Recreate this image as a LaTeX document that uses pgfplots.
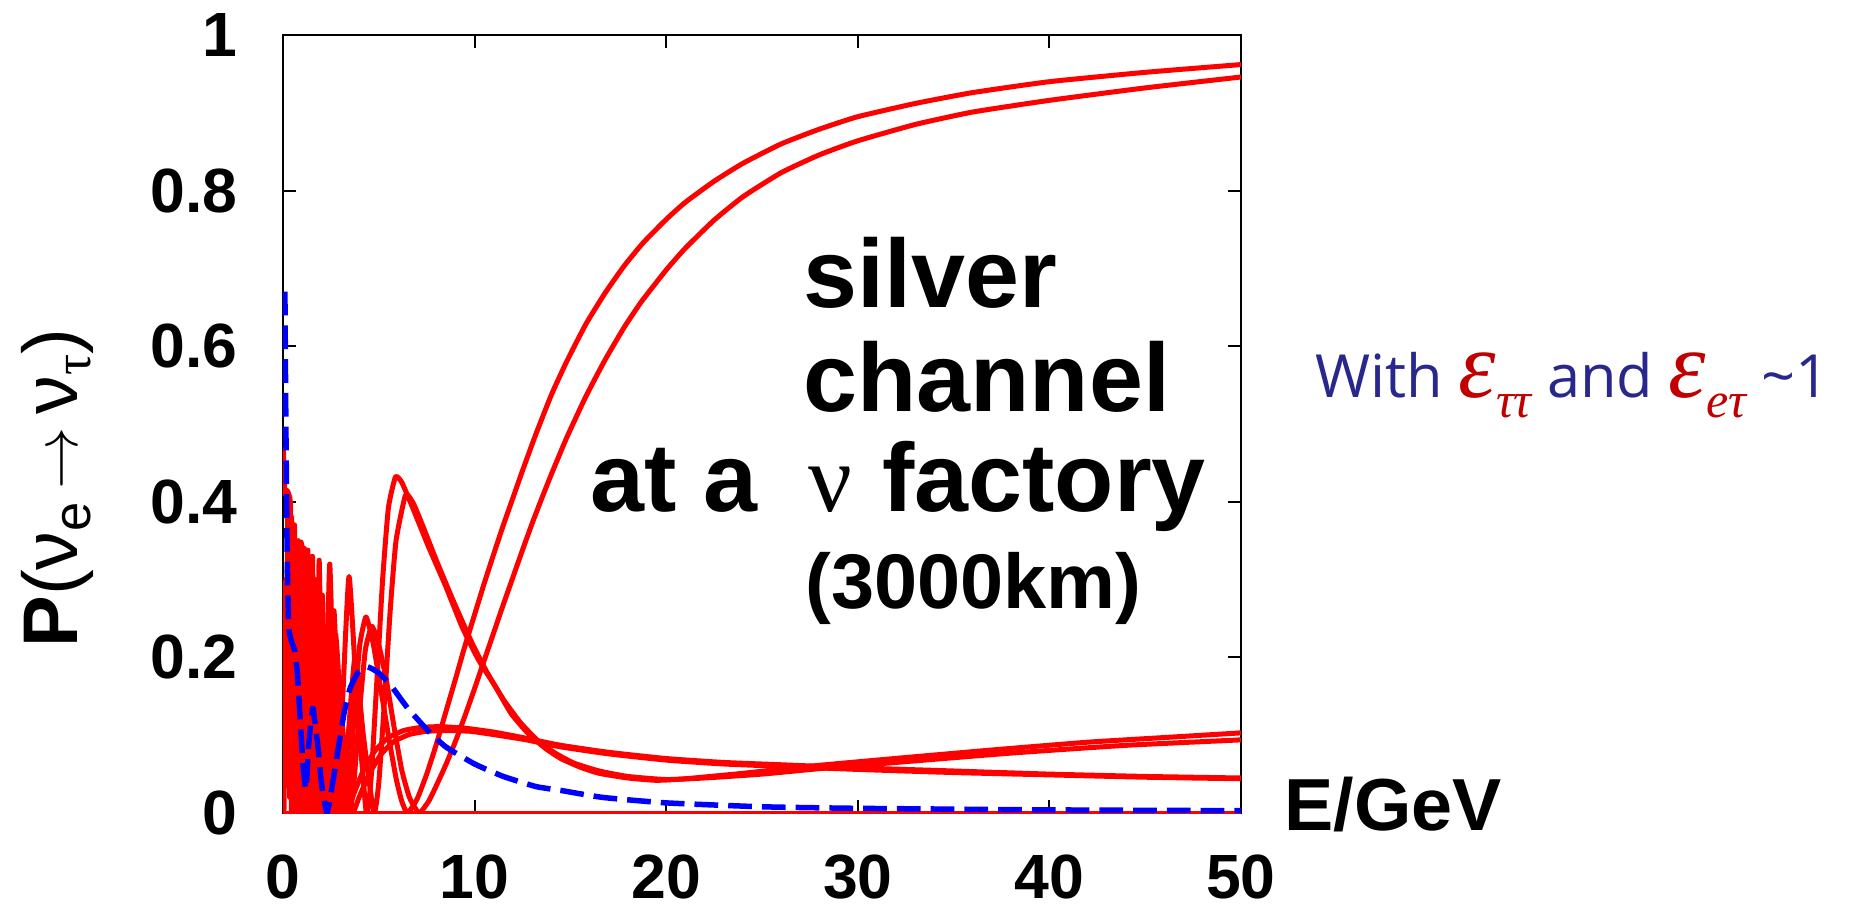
\documentclass[border=0pt]{standalone}
\usepackage{fontspec}
\setmainfont{Liberation Sans}
\newfontfamily\serifgreek{Liberation Serif}
\newfontfamily\annfont{Open Sans}
\usepackage{pgfplots}
\pgfplotsset{compat=1.18}
\definecolor{pred}{RGB}{255,0,0}
\definecolor{pblue}{RGB}{0,0,255}
\definecolor{navy}{RGB}{40,40,140}
\definecolor{epsred}{RGB}{192,0,0}
\begin{document}
\begin{tikzpicture}
\useasboundingbox (-113.2pt,-39.6pt) rectangle (626.8pt,325.2pt);
\begin{axis}[
  at={(0pt,0pt)}, anchor=south west,
  scale only axis, width=383.2pt, height=311.2pt,
  xmin=0, xmax=50, ymin=0, ymax=1,
  xtick={0,10,20,30,40,50}, ytick={0,0.2,0.4,0.6,0.8,1},
  tick align=inside, major tick length=5.2pt,
  axis line style={line width=0.8pt, black},
  tick style={line width=0.8pt, black},
  /pgf/number format/assume math mode=true,
  ticklabel style={font=\bfseries\fontsize{25}{30}\selectfont},
  xticklabel style={anchor=base, yshift=-34pt, inner sep=0pt},
  yticklabel style={anchor=east, xshift=-18pt, inner sep=0pt},
  every axis plot/.append style={line join=round},
]
% curve A
\addplot[pred, line width=2pt, smooth, tension=0.3] coordinates {
(0.05,0.15) (0.15,0.30) (0.25,0.05) (0.35,0.36) (0.45,0.12) (0.55,0.02) (0.65,0.28) (0.75,0.18) (0.85,0.0) (0.95,0.22) (1.05,0.31) (1.15,0.05) (1.25,0.12) (1.3,0) (1.368,0.14) (1.444,0.28) (1.529,0.14) (1.625,0) (1.733,0.13) (1.857,0.26) (2.0,0.13) (2.167,0) (2.364,0.11) (2.6,0.22) (2.889,0.11) (3.25,0) (3.5,0.047) (3.75,0.139) (4.0,0.215) (4.33,0.252) (4.7,0.219) (5.1,0.16) (5.5,0.10) (5.9,0.045) (6.2,0.015) (6.5,0) (7.0,0.018) (7.5,0.05) (8.0,0.088) (8.5,0.13) (9.0,0.172) (9.5,0.215) (10,0.255) (10.5,0.295) (11,0.333) (11.5,0.37) (12,0.405) (12.5,0.44) (13.2,0.487) (14,0.537) (14.8,0.58) (15.8,0.628) (16.8,0.668) (17.8,0.703) (18.8,0.733) (20,0.763) (21,0.785) (22.5,0.812) (24,0.835) (26,0.86) (28,0.879) (30,0.895) (33,0.912) (36,0.926) (40,0.94) (45,0.952) (50,0.962)
};
% curve B
\addplot[pred, line width=2pt, smooth, tension=0.3] coordinates {
(0.05,0.25) (0.15,0.08) (0.25,0.39) (0.35,0.2) (0.45,0.0) (0.55,0.33) (0.65,0.1) (0.75,0.25) (0.85,0.34) (0.95,0.02) (1.041,0.34) (1.129,0) (1.232,0.33) (1.357,0) (1.43,0.155) (1.51,0.31) (1.6,0.155) (1.701,0) (1.816,0.14) (1.948,0.28) (2.1,0.14) (2.278,0) (2.49,0.115) (2.744,0.23) (3.056,0.115) (3.45,0) (3.7,0.039) (4.0,0.133) (4.3,0.21) (4.64,0.24) (5.0,0.216) (5.4,0.17) (5.8,0.11) (6.2,0.055) (6.6,0.02) (7.1,0) (7.6,0.015) (8,0.035) (8.5,0.062) (9,0.092) (9.5,0.125) (10,0.16) (10.5,0.196) (11,0.232) (11.5,0.268) (12,0.303) (12.5,0.338) (13,0.372) (13.5,0.404) (14,0.435) (14.8,0.482) (15.8,0.535) (16.8,0.582) (17.8,0.624) (18.7,0.657) (20,0.698) (21,0.726) (22.5,0.762) (24,0.792) (26,0.823) (28,0.846) (30,0.864) (33,0.885) (36,0.901) (40,0.916) (45,0.932) (50,0.946)
};
% curve C
\addplot[pred, line width=2pt, smooth, tension=0.3] coordinates {
(0.02,0.47) (0.1,0.41) (0.2,0.415) (0.3,0.41) (0.4,0.39) (0.5,0.2) (0.6,0.37) (0.7,0.03) (0.8,0.35) (0.9,0.15) (0.99,0.345) (1.053,0) (1.124,0.34) (1.205,0) (1.299,0.338) (1.408,0) (1.47,0.165) (1.538,0.33) (1.61,0.165) (1.695,0) (1.79,0.162) (1.887,0.325) (2.0,0.162) (2.128,0) (2.273,0.16) (2.439,0.32) (2.632,0.16) (2.857,0) (3.125,0.152) (3.448,0.304) (3.846,0.152) (4.348,0) (4.6,0.045) (4.9,0.17) (5.2,0.30) (5.5,0.392) (5.87,0.432) (6.2,0.425) (6.74,0.394) (7.6,0.342) (8.5,0.291) (9.35,0.239) (10.2,0.197) (11.1,0.162) (11.9,0.128) (12.8,0.102) (13.7,0.083) (14.5,0.07) (15.5,0.059) (16.5,0.051) (18,0.045) (19.5,0.042) (21,0.044) (24,0.051) (27,0.059) (31,0.068) (37,0.081) (42,0.091) (46,0.097) (50,0.103)
};
% curve D
\addplot[pred, line width=2pt, smooth, tension=0.3] coordinates {
(0.05,0.0) (0.15,0.2) (0.25,0.32) (0.35,0.02) (0.45,0.38) (0.55,0.12) (0.65,0.22) (0.75,0.0) (0.85,0.3) (0.965,0.34) (1.02,0) (1.08,0.33) (1.147,0) (1.23,0.32) (1.31,0) (1.42,0.31) (1.54,0) (1.61,0.15) (1.68,0.30) (1.76,0.15) (1.85,0) (1.947,0.14) (2.06,0.28) (2.181,0.14) (2.32,0) (2.478,0.13) (2.66,0.26) (2.869,0.13) (3.12,0) (3.407,0.1) (3.76,0.2) (4.193,0.1) (4.74,0) (5.0,0.039) (5.3,0.145) (5.6,0.262) (5.9,0.35) (6.4,0.409) (6.8,0.398) (7.2,0.375) (8.0,0.325) (8.9,0.272) (9.8,0.222) (10.6,0.183) (11.5,0.146) (12.4,0.116) (13.3,0.093) (14.2,0.077) (15.2,0.064) (16.5,0.054) (18,0.047) (20,0.043) (22,0.045) (25,0.05) (28,0.057) (32,0.065) (38,0.077) (44,0.087) (50,0.094)
};
% curve E
\addplot[pred, line width=2pt, smooth, tension=0.3] coordinates {
(0.55,0.05) (0.65,0.27) (0.75,0.02) (0.85,0.16) (0.949,0.3) (0.997,0) (1.049,0.3) (1.107,0) (1.172,0.29) (1.245,0) (1.328,0.28) (1.422,0) (1.531,0.26) (1.658,0) (1.73,0.115) (1.808,0.23) (1.89,0.115) (1.988,0) (2.09,0.095) (2.208,0.19) (2.34,0.095) (2.481,0) (2.65,0.07) (2.833,0.14) (3.05,0.07) (3.3,0) (3.7,0.025) (4.2,0.055) (4.8,0.08) (5.5,0.097) (6.3,0.106) (7.2,0.11) (8.2,0.111) (9.5,0.109) (11,0.104) (12.5,0.097) (14.5,0.087) (17,0.078) (20,0.07) (23,0.065) (26,0.062) (30,0.058) (35,0.054) (40,0.05) (45,0.047) (50,0.045)
};
% curve F
\addplot[pred, line width=2pt, smooth, tension=0.3] coordinates {
(0.6,0.18) (0.7,0.0) (0.8,0.24) (0.9,0.08) (0.973,0.29) (1.022,0) (1.078,0.28) (1.139,0) (1.208,0.27) (1.285,0) (1.374,0.26) (1.475,0) (1.531,0.12) (1.592,0.24) (1.658,0.12) (1.73,0) (1.808,0.105) (1.894,0.21) (1.988,0.105) (2.092,0) (2.208,0.085) (2.336,0.17) (2.481,0.085) (2.645,0) (2.833,0.06) (3.049,0.12) (3.3,0.06) (3.6,0) (4.0,0.022) (4.5,0.05) (5.1,0.075) (5.8,0.092) (6.6,0.101) (7.5,0.105) (8.5,0.106) (9.8,0.105) (11.2,0.1) (12.7,0.094) (14.5,0.085) (17,0.076) (20,0.068) (23,0.063) (26,0.06) (30,0.056) (35,0.052) (40,0.049) (45,0.046) (50,0.044)
};
% curve G (zero line)
\addplot[pred, line width=2pt] coordinates {(0,0) (50,0)};
% blue dashed
\addplot[pblue, line width=2.2pt, dash pattern=on 9.5pt off 4pt, smooth, tension=0.3] coordinates {
(0.1,0.67) (0.15,0.5) (0.22,0.33) (0.3,0.24) (0.45,0.22) (0.6,0.21) (0.75,0.18) (0.9,0.12) (1.05,0.06) (1.2,0.03) (1.35,0.09) (1.55,0.135) (1.7,0.11) (1.85,0.08) (2.0,0.04) (2.3,0.0) (2.6,0.04) (2.9,0.085) (3.2,0.13) (3.5,0.16) (3.9,0.18) (4.4,0.188) (5.0,0.18) (5.6,0.165) (6.5,0.135) (7.6,0.105) (8.5,0.085) (10,0.063) (11.5,0.047) (13.2,0.034) (14.5,0.029) (16.7,0.02) (20,0.013) (25,0.008) (30,0.006) (40,0.004) (50,0.003)
};
\end{axis}
% y label
\node[rotate=90, anchor=base, inner sep=0pt] at (-82pt,130pt)
  {\fontsize{31}{36}\selectfont\textbf{P}(ν\raisebox{-0.3ex}{\fontsize{21}{24}\selectfont e}\,$\rightarrow$\,ν\raisebox{-0.3ex}{\fontsize{21}{24}\selectfont\serifgreek τ})};
% x label
\node[anchor=base west, inner sep=0pt] at (400.4pt,-6.8pt)
  {\bfseries\fontsize{29.5}{34}\selectfont E/GeV};
% inset text
\node[anchor=base west, inner sep=0pt] at (208pt,202pt) {\bfseries\fontsize{38.8}{44}\selectfont silver};
\node[anchor=base west, inner sep=0pt] at (208pt,160.4pt) {\bfseries\fontsize{38.8}{44}\selectfont channel};
\node[anchor=base west, inner sep=0pt] at (122.8pt,120.4pt) {\bfseries\fontsize{38.8}{44}\selectfont at a};
\node[anchor=base west, inner sep=0pt] at (210pt,120.4pt) {\serifgreek\fontsize{38.8}{44}\selectfont ν};
\node[anchor=base west, inner sep=0pt] at (239.6pt,120.4pt) {\bfseries\fontsize{38.8}{44}\selectfont factory};
\node[anchor=base west, inner sep=0pt] at (208.8pt,82pt) {\bfseries\fontsize{31}{36}\selectfont (3000km)};
% annotation
\node[anchor=base west, inner sep=0pt, text=navy] at (412.8pt,166pt)
  {\annfont\fontsize{23.8}{28}\selectfont With
   \textcolor{epsred}{\serifgreek\itshape\fontsize{38}{42}\selectfont ε\raisebox{-0.45ex}{\fontsize{20}{22}\selectfont ττ}}
   and
   \textcolor{epsred}{\serifgreek\itshape\fontsize{38}{42}\selectfont ε\raisebox{-0.45ex}{\fontsize{20}{22}\selectfont eτ}}
   \textasciitilde 1};
\end{tikzpicture}
\end{document}
